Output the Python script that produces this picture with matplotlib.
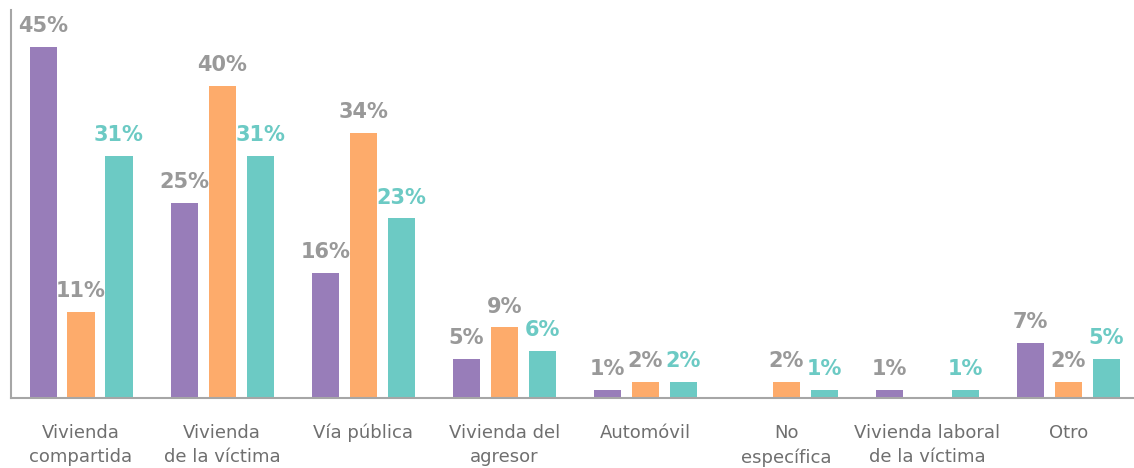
import numpy as np
from matplotlib import pyplot as plt

categories = ['Vivienda\ncompartida', 'Vivienda\nde la víctima', 'Vía pública',
              'Vivienda del\nagresor', 'Automóvil', 'No\nespecífica',
              'Vivienda laboral\nde la víctima', 'Otro']
serie_a = [45, 25, 16, 5, 1, 0, 1, 7]
serie_b = [11, 40, 34, 9, 2, 2, 0, 2]
serie_c = [31, 31, 23, 6, 2, 1, 1, 5]

colors = ['#987db9', '#fdab6b', '#6ccac4']
label_colors = ['#999999', '#999999', '#6ccac4']

plt.rcParams['font.family'] = ['DejaVu Sans']

fig = plt.figure(figsize=(11.34, 4.68), dpi=100)
ax = fig.add_axes([10.5 / 1134, 70.5 / 468, 1123.5 / 1134, 387 / 468])

x = np.arange(len(categories))
offset = 0.269
width = 0.192
for i, vals in enumerate([serie_a, serie_b, serie_c]):
    pos = x + (i - 1) * offset
    ax.bar(pos, vals, width=width, color=colors[i])
    for p, v in zip(pos, vals):
        if v == 0:
            continue
        ax.text(p, v + 1.4, f'{v}%', ha='center', va='bottom', fontsize=15,
                fontweight='bold', color=label_colors[i])

ax.set_xlim(-0.5, 7.464)
ax.set_ylim(0, 49.7)
ax.set_yticks([])
ax.set_xticks(x)
ax.set_xticklabels(categories, fontsize=13, color='#6f6f6f', linespacing=1.45)
ax.tick_params(axis='x', length=0, pad=19)
for s in ['top', 'right']:
    ax.spines[s].set_visible(False)
for s in ['left', 'bottom']:
    ax.spines[s].set_color('#a6a6a6')
    ax.spines[s].set_linewidth(1.5)

plt.savefig('out.png', dpi=100)
